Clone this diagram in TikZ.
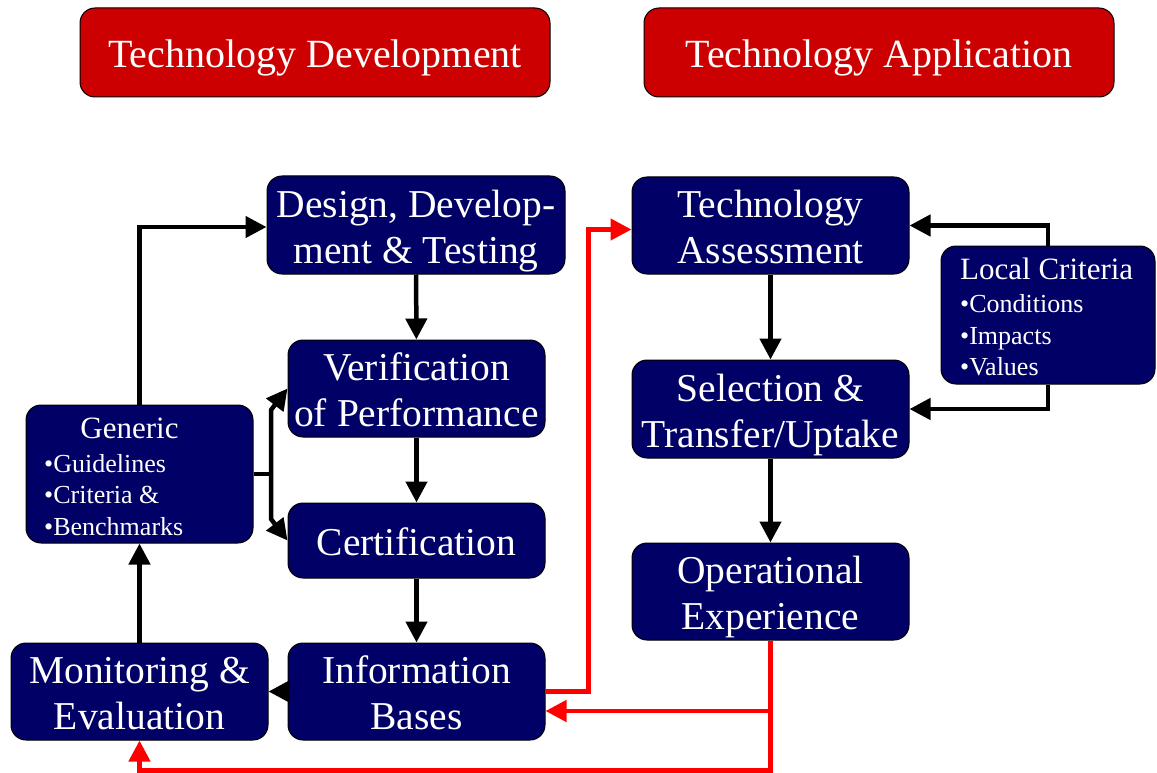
\documentclass[tikz,border=0pt]{standalone}
\usepackage{fontspec}
\setmainfont{Liberation Serif}
\usetikzlibrary{arrows.meta}
\definecolor{navy}{HTML}{000066}
\definecolor{hdrred}{HTML}{CC0000}
\definecolor{flowred}{HTML}{FF0000}
% centred lines of box text, set a little below the box centre
\newcommand\boxlines[1]{\raisebox{-6pt}[\height][\depth]{\begin{tabular}{@{}c@{}}#1\end{tabular}}}
\begin{document}
\begin{tikzpicture}[x=1pt,y=-1pt,
  box/.style={draw=black, line width=1pt, fill=navy, rounded corners=15pt,
              text=white, align=center, inner sep=0pt},
  hdr/.style={box, fill=hdrred, font=\fontsize{40}{46}\selectfont},
  big/.style={font=\fontsize{39.5}{46}\selectfont},
  ttl/.style={text=white, font=\fontsize{31}{36}\selectfont, inner sep=0pt, anchor=base},
  itm/.style={text=white, font=\fontsize{26}{31}\selectfont, inner sep=0pt, anchor=base west},
  link/.style={line width=4.5pt, draw=black},
  flow/.style={link, -{Triangle[length=21pt,width=21pt]}},
  back/.style={flow, draw=flowred},
]
\useasboundingbox (0,0) rectangle (1157,773);

% column headers
\node[hdr, minimum width=470, minimum height=89] (hdev) at (315,52.5) {\boxlines{Technology Development}};
\node[hdr, minimum width=470, minimum height=89] (happ) at (879,52.5) {\boxlines{Technology Application}};

% development cycle
\node[box, big, minimum width=298, minimum height=98] (design) at (416,225) {\boxlines{Design, Develop-\\ment \& Testing}};
\node[box, big, minimum width=257, minimum height=97] (verif) at (416.5,388.5) {\boxlines{Verification\\of Performance}};
\node[box, big, minimum width=257, minimum height=75] (cert) at (416.5,540.5) {\boxlines{Certification}};
\node[box, big, minimum width=257, minimum height=97] (info) at (416.5,691.5) {\boxlines{Information\\Bases}};
\node[box, big, minimum width=257, minimum height=97] (monit) at (139.5,691.5) {\boxlines{Monitoring \&\\Evaluation}};

% generic requirements
\node[box, minimum width=227, minimum height=138] (generic) at (139.5,474) {};
\node[ttl] (gtitle) at (129.5,438) {Generic};
\node[itm] (g1) at (44,472) {•Guidelines};
\node[itm] (g2) at (44,503) {•Criteria \&};
\node[itm] (g3) at (44,535) {•Benchmarks};

% application chain
\node[box, big, minimum width=277, minimum height=97] (assess) at (770.5,225.5) {\boxlines{Technology\\Assessment}};
\node[box, big, minimum width=277, minimum height=98] (select) at (770.5,409) {\boxlines{Selection \&\\Transfer/Uptake}};
\node[box, big, minimum width=277, minimum height=97] (oper) at (770.5,591.5) {\boxlines{Operational\\Experience}};

% local criteria
\node[box, minimum width=214, minimum height=138] (local) at (1048,315) {};
\node[ttl, anchor=base west] (ltitle) at (960,279) {Local Criteria};
\node[itm] (l1) at (960,312) {•Conditions};
\node[itm] (l2) at (960,344) {•Impacts};
\node[itm] (l3) at (960,375) {•Values};

% development flow
\draw[flow] (design) -- (verif);
\draw[flow] (verif) -- (cert);
\draw[flow] (cert) -- (info);
\draw[flow] (info) -- (monit);
\draw[flow] (monit) -- (generic);
\draw[flow] (generic.north) |- ([yshift=-2pt]design.west);

% generic requirements feed verification and certification
\coordinate (fork) at (271,474);
\draw[link] (generic.east) -- (fork);
\draw[flow] (fork) -- (271,410) -- (verif.west);
\draw[flow] (fork) -- (271,519) -- (cert.west);

% application flow
\draw[flow] (assess) -- (select);
\draw[flow] (select) -- (oper);
\draw[flow] (local.north) |- (assess.east);
\draw[flow] (local.south) |- (select.east);

% feedback between the two columns
\draw[back] (info.east) -- ++(43,0) |- ([yshift=-4pt]assess.west);
\coordinate (tap) at (oper.south |- 0,711);
\draw[back] (oper.south) -- ++(0,130) -| (monit.south);
\draw[back] (tap) -- (info.east |- tap);
\end{tikzpicture}
\end{document}
